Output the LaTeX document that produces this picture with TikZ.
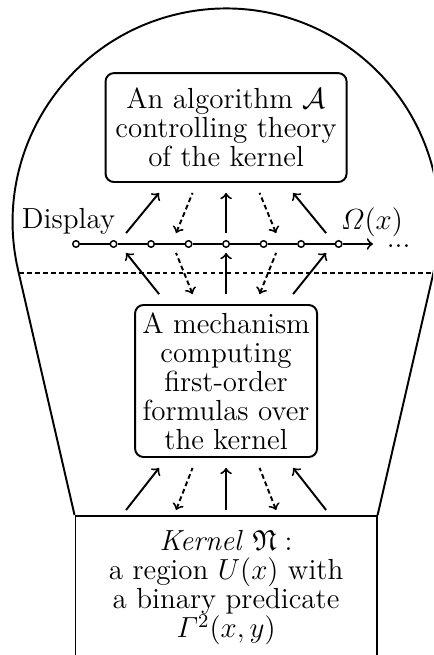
\documentclass[tikz,border=0pt]{standalone}
\usepackage{amsmath,amsfonts,amssymb}
\usepackage{tikz}
\usetikzlibrary{calc, positioning}

\begin{document}
\begin{tikzpicture}[x=1pt, y=1pt, thick, font=\fontsize{12}{12}\selectfont,
    box/.style={draw, rounded corners=3.5pt, align=center},
    station/.style={draw, circle, fill=white, line width=0.6pt, inner sep=0pt, minimum size=2.7pt},
    sep/.style={dash pattern=on 2pt off 1.3pt},
    fwd/.style={->},
    back/.style={<-, sep}]

        \path[use as bounding box, clip] (-93.4,-169.8) rectangle (85.5,100.8);

        % the three parts
        \node (alg) [box, minimum width=99.6pt, minimum height=45pt, inner sep=3pt] at (0,48.1)
            {An algorithm $\mathcal{A}$\\ controlling theory\\ of the kernel};
        \node (mech) [box, minimum width=75.2pt, minimum height=62.8pt, inner xsep=2pt, inner ysep=3pt] at (0,-56.6)
            {A mechanism\\ computing\\ first-order\\ formulas over\\ the kernel};
        \node (kernel) [draw, align=center, anchor=north, minimum width=124.4pt, minimum height=59.3pt] at (0,-112)
            {\textit{Kernel} $\mathfrak{N}:$\\ a region $U(x)$ with\\ a binary predicate\\ $\varGamma^2(x,y)$};

        % bulb
        \draw (kernel.north west) -- ($(0,9.1)+(193.1:88.2)$)
            arc[start angle=193.1, end angle=-13.1, radius=88.2] -- (kernel.north east);
        \draw[sep] (-85.6,-12) -- (85.6,-12);

        % display line
        \foreach \i in {0,...,7}
            \node (p\i) [station] at (-62+\i*15.5,0) {};
        \foreach \i [count=\j] in {0,...,6}
            \draw (p\i) -- (p\j);
        \coordinate (tip) at (60.7,0);
        \draw[->] (p7) -- (tip);

        \node (disp) [anchor=base, inner sep=1pt] at (-65.1,6.2) {Display};
        \node (omega) [anchor=base, inner sep=1pt] at (60.3,5.8) {$\varOmega(x)$};
        \node (more) [anchor=base, inner sep=0pt] at (71.3,-1.3) {...};

        % arrows
        \foreach \k/\s in {-2/fwd,-1/back,0/fwd,1/back,2/fwd} {
            \coordinate (lineUp\k) at ($(p4)+(\k*20.66,4.5)$);
            \coordinate (algIn\k) at ($(alg.south)+(\k*13.84,-4.1)$);
            \draw[\s] (lineUp\k) -- (algIn\k);

            \coordinate (mechOut\k) at ($(mech.north)+(\k*13.84,4.1)$);
            \coordinate (lineDown\k) at ($(p4)+(\k*20.66,-3.7)$);
            \draw[\s] (mechOut\k) -- (lineDown\k);

            \coordinate (kerOut\k) at ($(kernel.north)+(\k*20.66,2.1)$);
            \coordinate (mechIn\k) at ($(mech.south)+(\k*13.84,-4.1)$);
            \draw[\s] (kerOut\k) -- (mechIn\k);
        }
\end{tikzpicture}
\end{document}
